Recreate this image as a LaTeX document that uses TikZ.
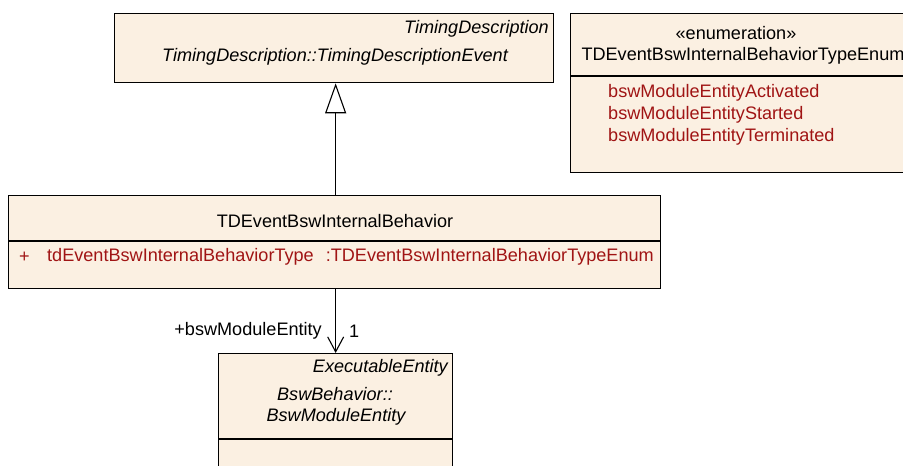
\documentclass[tikz,border=0pt]{standalone}
\usepackage{fontspec}
\setmainfont{Liberation Sans}
\usetikzlibrary{arrows.meta}
\definecolor{classfill}{RGB}{251,240,226}
\definecolor{attrred}{RGB}{160,20,20}
\newcommand{\umlfont}{\fontsize{18.1}{20}\selectfont}
\tikzset{
  classbox/.style={draw=black, line width=1.3pt, fill=classfill, rectangle, inner sep=0pt, anchor=north west},
  txt/.style={inner sep=0pt, font=\umlfont},
  lit/.style={txt, text=attrred, anchor=west},
  gen/.style={-{Triangle[open, length=30pt, width=21pt, fill=white]}, line width=1.1pt},
  assoc/.style={-{Straight Barb[length=15pt, width=16pt, line width=1.1pt]}, line width=1.1pt}
}
\begin{document}
\begin{tikzpicture}[x=1pt, y=-1pt]
            \useasboundingbox (0,0) rectangle (903,466);
            % classes
            \node[classbox, minimum width=439pt, minimum height=69pt] (event) at (114,13) {};
            \node[classbox, minimum width=350pt, minimum height=159pt] (enum) at (570,13) {};
            \node[classbox, minimum width=652pt, minimum height=93pt] (behavior) at (8,195) {};
            \node[classbox, minimum width=234pt, minimum height=125pt] (entity) at (218,353) {};
            % compartments
            \draw[line width=1.1pt] (enum.west |- 0,76) -- (enum.east |- 0,76);
            \draw[line width=1.1pt] (behavior.west |- 0,241) -- (behavior.east |- 0,241);
            \draw[line width=1.1pt] (entity.west |- 0,439) -- (entity.east |- 0,439);
            % texts
            \node[txt, anchor=east] (eventparent) at (549,29) {\itshape TimingDescription};
            \node[txt] (eventname) at (335,57) {\itshape TimingDescription::TimingDescriptionEvent};
            \node[txt] (enumstereo) at (736,33) {«enumeration»};
            \node[txt] (enumname) at (743,56) {TDEventBswInternalBehaviorTypeEnum};
            \node[lit] (litA) at (608,93) {bswModuleEntityActivated};
            \node[lit] (litB) at (608,115) {bswModuleEntityStarted};
            \node[lit] (litC) at (608,137) {bswModuleEntityTerminated};
            \node[txt] (behaviorname) at (335,221) {TDEventBswInternalBehavior};
            \node[lit] (attrvis) at (19,257) {+};
            \node[lit] (attrname) at (47,257) {tdEventBswInternalBehaviorType};
            \node[lit, anchor=east] (attrtype) at (654,257) {:TDEventBswInternalBehaviorTypeEnum};
            \node[txt, anchor=east] (entityparent) at (448,368) {\itshape ExecutableEntity};
            \node[txt] (entitypkg) at (335,394) {\itshape BswBehavior::};
            \node[txt] (entityname) at (336,417) {\itshape BswModuleEntity};
            % connectors
            \draw[gen] (behavior.north -| entity.north) -- (event.south -| entity.north);
            \draw[assoc] (behavior.south -| entity.north) -- (entity.north);
            \node[txt, anchor=east] (rolename) at (322,331) {+bswModuleEntity};
            \node[txt, anchor=west] (mult) at (349,331) {1};
        \end{tikzpicture}
\end{document}
